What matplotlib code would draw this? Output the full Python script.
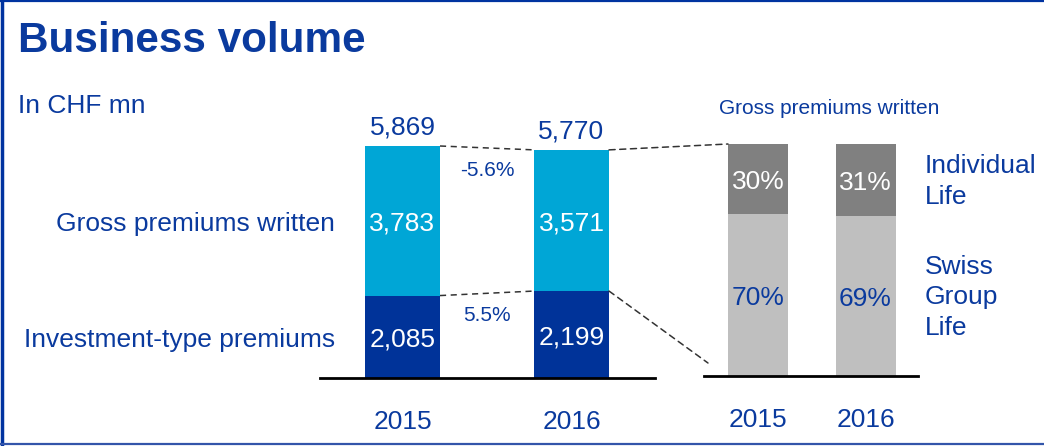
import matplotlib
matplotlib.use("Agg")
import matplotlib.pyplot as plt
from matplotlib.patches import ConnectionPatch
from matplotlib.lines import Line2D

plt.rcParams['font.family'] = ['Liberation Sans', 'DejaVu Sans']

# ---- data ----
years = ["2015", "2016"]
investment_type = [2085, 2199]
gross_premiums = [3783, 3571]
totals = [5869, 5770]
change_labels = ["-5.6%", "5.5%"]          # gross premiums, investment-type
individual_life_pct = [30, 31]
swiss_group_life_pct = [70, 69]

series_names = ["Gross premiums written", "Investment-type premiums"]
split_names = ["Individual\nLife", "Swiss\nGroup\nLife"]

BLUE_TXT = "#0A3A9E"
LIGHT_BLUE = "#00A6D6"
DARK_BLUE = "#003399"
DARK_GREY = "#808080"
LIGHT_GREY = "#BFBFBF"
FS = 19

W, H = 1044, 446
fig = plt.figure(figsize=(W / 100, H / 100), dpi=100)


def px_axes(x0, x1, ytop, ybot, **kw):
    return fig.add_axes([x0 / W, 1 - ybot / H, (x1 - x0) / W, (ybot - ytop) / H], **kw)


# overlay for frame and free text
ov = px_axes(0, W, 0, H)
ov.set_xlim(0, W)
ov.set_ylim(H, 0)
ov.axis("off")
ov.add_line(Line2D([1.5, 1.5], [0, H], color="#0033A0", lw=2.5))
ov.add_line(Line2D([0, W], [0.8, 0.8], color="#0033A0", lw=1.6))
ov.add_line(Line2D([0, W], [444, 444], color="#3355AA", lw=1.6))
ov.text(18, 52, "Business volume", fontsize=30.4, fontweight="bold", color=BLUE_TXT,
        ha="left", va="baseline")
ov.text(18, 113, "In CHF mn", fontsize=FS, color=BLUE_TXT, ha="left", va="baseline")
ov.text(829, 114, "Gross premiums written", fontsize=15, color=BLUE_TXT,
        ha="center", va="baseline")

# ---- left stacked chart ----
ax1 = px_axes(320, 655, 146, 378)
x = [0, 1]
w = 0.444
ax1.bar(x, investment_type, width=w, color=DARK_BLUE, zorder=2)
tops = [a + b for a, b in zip(investment_type, gross_premiums)]
ax1.bar(x, gross_premiums, width=w, bottom=investment_type, color=LIGHT_BLUE, zorder=2)
ax1.set_xlim(-0.488, 1.494)
ax1.set_ylim(0, max(tops))
for s in ["top", "left", "right"]:
    ax1.spines[s].set_visible(False)
ax1.spines["bottom"].set_linewidth(2)
ax1.spines["bottom"].set_color("black")
ax1.set_yticks([])
ax1.set_xticks(x, years)
ax1.tick_params(axis="x", length=0, pad=23, labelsize=FS, labelcolor=BLUE_TXT)

lab = dict(textcoords="offset points", ha="center", va="center", fontsize=FS,
           annotation_clip=False)
for i in x:
    ax1.annotate(f"{investment_type[i]:,}", xy=(i, investment_type[i] / 2), xytext=(0, -2),
                 color="white", **lab)
    ax1.annotate(f"{gross_premiums[i]:,}", xy=(i, investment_type[i] + gross_premiums[i] / 2),
                 xytext=(0, -2), color="white", **lab)
    ax1.annotate(f"{totals[i]:,}", xy=(i, tops[i]), xytext=(0, 8), textcoords="offset points",
                 ha="center", va="baseline", fontsize=FS, color=BLUE_TXT, annotation_clip=False)

# series labels on the left
ax1.annotate(series_names[0], xy=(-w / 2, investment_type[0] + gross_premiums[0] / 2),
             xytext=(-21.5, -2), textcoords="offset points", ha="right", va="center",
             fontsize=FS, color=BLUE_TXT, annotation_clip=False)
ax1.annotate(series_names[1], xy=(-w / 2, investment_type[0] / 2),
             xytext=(-21.5, -2), textcoords="offset points", ha="right", va="center",
             fontsize=FS, color=BLUE_TXT, annotation_clip=False)

# connectors between the two left bars
dash = dict(color="#333333", lw=1.1, linestyle=(0, (4, 3)), clip_on=False, zorder=1)
ax1.plot([w / 2, 1 - w / 2], [tops[0], tops[1]], **dash)
ax1.plot([w / 2, 1 - w / 2], [investment_type[0], investment_type[1]], **dash)
ax1.annotate(change_labels[0], xy=(0.5, (tops[0] + tops[1]) / 2), xytext=(0, -16.5),
             textcoords="offset points", ha="center", va="center", fontsize=15, color=BLUE_TXT)
ax1.annotate(change_labels[1], xy=(0.5, (investment_type[0] + investment_type[1]) / 2),
             xytext=(0, -16), textcoords="offset points", ha="center", va="center",
             fontsize=15, color=BLUE_TXT)

# ---- right 100% chart ----
ax2 = px_axes(704, 918, 144, 376)
w2 = 0.558
ax2.bar(x, swiss_group_life_pct, width=w2, color=LIGHT_GREY, zorder=2)
ax2.bar(x, individual_life_pct, width=w2, bottom=swiss_group_life_pct, color=DARK_GREY, zorder=2)
ax2.set_xlim(-0.502, 1.488)
ax2.set_ylim(0, 100)
for s in ["top", "left", "right"]:
    ax2.spines[s].set_visible(False)
ax2.spines["bottom"].set_linewidth(2)
ax2.spines["bottom"].set_color("black")
ax2.set_yticks([])
ax2.set_xticks(x, years)
ax2.tick_params(axis="x", length=0, pad=23, labelsize=FS, labelcolor=BLUE_TXT)

for i in x:
    ax2.annotate(f"{swiss_group_life_pct[i]}%", xy=(i, swiss_group_life_pct[i] / 2),
                 xytext=(0, -2), color=BLUE_TXT, **lab)
    ax2.annotate(f"{individual_life_pct[i]}%",
                 xy=(i, swiss_group_life_pct[i] + individual_life_pct[i] / 2),
                 xytext=(0, -2), color="white", **lab)

ax2.annotate(split_names[0], xy=(1 + w2 / 2, swiss_group_life_pct[1] + individual_life_pct[1] / 2),
             xytext=(21, -1), textcoords="offset points", ha="left", va="center",
             fontsize=FS, color=BLUE_TXT, linespacing=1.36, annotation_clip=False)
ax2.annotate(split_names[1], xy=(1 + w2 / 2, swiss_group_life_pct[1] / 2),
             xytext=(21, -1), textcoords="offset points", ha="left", va="center",
             fontsize=FS, color=BLUE_TXT, linespacing=1.36, annotation_clip=False)

# connectors from 2016 gross premiums to the breakdown
cp1 = ConnectionPatch(xyA=(1 + w / 2, tops[1]), coordsA="data", axesA=ax1,
                      xyB=(-w2 / 2, 100), coordsB="data", axesB=ax2,
                      color="#333333", lw=1.1, linestyle=(0, (4, 3)))
cp2 = ConnectionPatch(xyA=(1 + w / 2, investment_type[1]), coordsA="data", axesA=ax1,
                      xyB=(-0.465, 5.6), coordsB="data", axesB=ax2,
                      color="#333333", lw=1.1, linestyle=(0, (4, 3)))
fig.add_artist(cp1)
fig.add_artist(cp2)

fig.savefig("out.png", dpi=100)
